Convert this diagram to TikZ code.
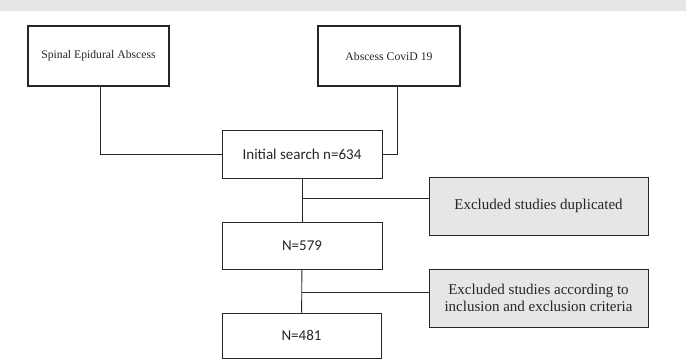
\documentclass[tikz,border=0pt]{standalone}
\usepackage{fontspec}
\setmainfont{Liberation Serif}
\newfontfamily\calfont{Carlito}
\definecolor{bandgray}{HTML}{E4E5E7}
\definecolor{boxgray}{HTML}{E6E6E6}
\definecolor{inkgray}{HTML}{262626}
\tikzset{
  topbox/.style={draw=inkgray, line width=1.2pt, minimum width=141pt, minimum height=60pt, font=\fontsize{11.7}{13.5}\selectfont, text=inkgray},
  countbox/.style={draw=inkgray, line width=0.9pt, minimum width=160pt, minimum height=47pt, font=\calfont\fontsize{15}{17}\selectfont, text=inkgray},
  exclbox/.style={draw=inkgray, line width=1pt, fill=boxgray, minimum width=219pt, minimum height=58pt, align=center, font=\fontsize{15}{17.3}\selectfont, text=inkgray},
  link/.style={draw=black!85, line width=0.9pt}
}
\begin{document}
\begin{tikzpicture}[x=1pt,y=-1pt]
    \useasboundingbox (0,0) rectangle (686,360);
    \fill[bandgray] (0,0) rectangle (686,11);
    % search terms
    \node[topbox] (spinal) at (98.5,56) {Spinal Epidural Abscess};
    \node[topbox, minimum width=142pt] (covid) at (389,56) {Abscess CoviD 19};
    % counts
    \node[countbox, minimum height=48pt] (initial) at (302,154) {Initial search n=634};
    \node[countbox] (n579) at (302,245.5) {N=579};
    \node[countbox, minimum width=159pt, minimum height=45pt] (n481) at (301.5,335.5) {N=481};
    % exclusions
    \node[exclbox] (dupl) at (538.5,206) {Excluded studies duplicated};
    \node[exclbox] (crit) at (538.5,298) {Excluded studies according to\\inclusion and exclusion criteria};
    \coordinate (split1) at (302,198);
    \coordinate (split2) at (302,292);
    % connectors
    \draw[link] ([xshift=1.5pt]spinal.south) |- (initial.west);
    \draw[link] ([xshift=8pt]covid.south) |- (initial.east);
    \draw[link] (initial) -- (n579);
    \draw[link] (n579) -- (n481);
    \draw[link] (split1) -- (split1 -| dupl.west);
    \draw[link] (split2) -- (split2 -| crit.west);
\end{tikzpicture}
\end{document}
